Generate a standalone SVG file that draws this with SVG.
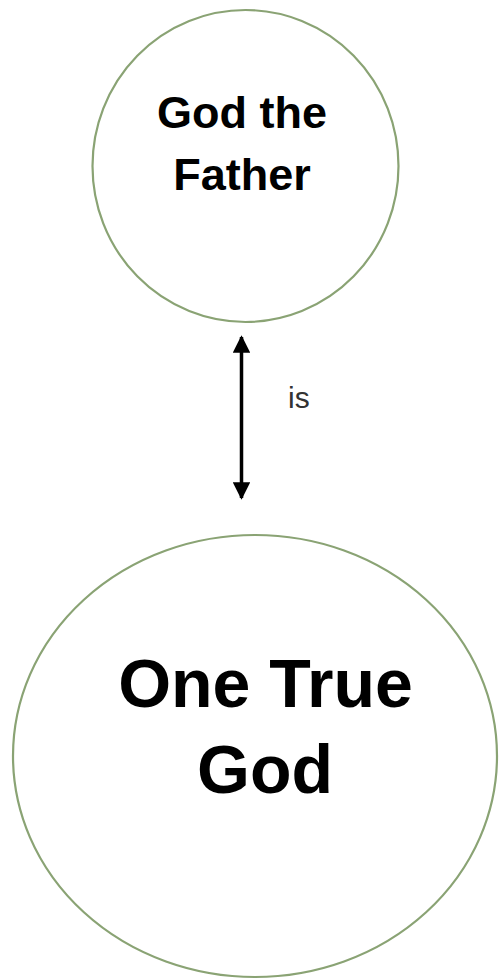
<svg xmlns="http://www.w3.org/2000/svg" width="499" height="980" viewBox="0 0 499 980">
<style>
.node{fill:#ffffff;stroke:#8aa374;stroke-width:2.2}
.bold{font-family:"Liberation Sans",Arial,sans-serif;font-weight:bold;fill:#000;text-anchor:middle}
.lbl{font-family:"Liberation Sans",Arial,sans-serif;fill:#333;font-size:30px}
.conn{stroke:#000;stroke-width:3.5;fill:none}
</style>
<defs>
<marker id="ah" viewBox="0 0 10 10" refX="9" refY="5" markerWidth="5" markerHeight="5" orient="auto-start-reverse" markerUnits="strokeWidth">
<path d="M0,0 L10,5 L0,10 z" fill="#000"/>
</marker>
</defs>
<rect width="499" height="980" fill="#ffffff"/>
<g id="father">
<ellipse class="node" cx="245.5" cy="166" rx="153" ry="156"/>
<text class="bold" x="242" y="128" font-size="45">God the</text>
<text class="bold" x="242" y="190" font-size="45">Father</text>
</g>
<g id="onetruegod">
<ellipse class="node" cx="255" cy="756" rx="242" ry="221"/>
<text class="bold" x="265.5" y="707" font-size="68">One True</text>
<text class="bold" x="265" y="793" font-size="68">God</text>
</g>
<g id="connectors">
<line class="conn" x1="241.5" y1="337" x2="241.5" y2="498" marker-start="url(#ah)" marker-end="url(#ah)"/>
<text class="lbl" x="288" y="408">is</text>
</g>
</svg>
